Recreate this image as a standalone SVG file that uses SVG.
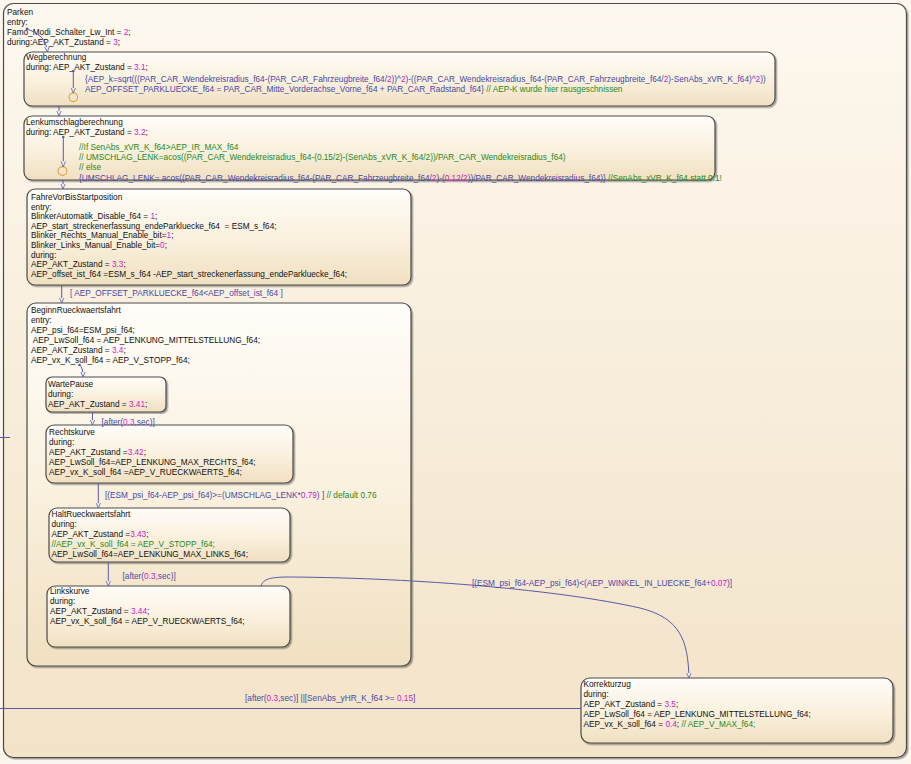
<svg xmlns="http://www.w3.org/2000/svg" width="911" height="764" viewBox="0 0 911 764">
<style>
text{font-family:"Liberation Sans",Arial,sans-serif;font-size:8.25px;fill:#111;white-space:pre}
.n{fill:#d020c8}
.c{fill:#1f8a1f}
.b{fill:#4848a8}
.st{stroke:#4a4a4a;stroke-width:1.2;filter:url(#sh)}
.cn{fill:none;stroke:#5a5aa8;stroke-width:1}
.ar{marker-end:url(#arr)}
</style>
<defs>
<linearGradient id="gO" x1="0" y1="0" x2="0" y2="1"><stop offset="0" stop-color="#fdf8ef"/><stop offset="1" stop-color="#f3e3c8"/></linearGradient>
<linearGradient id="gS" x1="0" y1="0" x2="0" y2="1"><stop offset="0" stop-color="#fffdf9"/><stop offset="0.5" stop-color="#faf1df"/><stop offset="1" stop-color="#f1e0c1"/></linearGradient>
<filter id="sh" x="-5%" y="-5%" width="110%" height="110%"><feDropShadow dx="1.5" dy="1.5" stdDeviation="0.7" flood-color="#000" flood-opacity="0.35"/></filter>
<marker id="arr" viewBox="0 0 8 8" refX="7" refY="4" markerWidth="6" markerHeight="6" orient="auto" markerUnits="userSpaceOnUse"><path d="M0,1 L7,4 L0,7" fill="#ececf6" stroke="#5a5aa8" stroke-width="1"/></marker>
</defs>
<rect width="911" height="764" fill="#fcf6ec"/>

<g id="Parken">
<rect x="3.5" y="3.5" width="903" height="754" rx="10" fill="url(#gO)" class="st"/>
<text x="7" y="14.5">Parken</text>
<text x="7" y="24.5">entry:</text>
<text x="7" y="34.5">Famo_Modi_Schalter_Lw_Int = <tspan class="n">2</tspan>;</text>
<text x="7" y="44.5">during:AEP_AKT_Zustand = <tspan class="n">3</tspan>;</text>
</g>

<g id="Wegberechnung">
<rect x="24" y="52" width="751" height="54" rx="8" fill="url(#gS)" class="st"/>
<text x="26" y="60">Wegberechnung</text>
<text x="26" y="70">during: AEP_AKT_Zustand = <tspan class="n">3.1</tspan>;</text>
<text x="85" y="82" class="b">{AEP_k=sqrt(((PAR_CAR_Wendekreisradius_f64-(PAR_CAR_Fahrzeugbreite_f64/<tspan class="n">2</tspan>))^<tspan class="n">2</tspan>)-((PAR_CAR_Wendekreisradius_f64-(PAR_CAR_Fahrzeugbreite_f64/<tspan class="n">2</tspan>)-SenAbs_xVR_K_f64)^<tspan class="n">2</tspan>))</text>
<text x="85" y="92" class="b">AEP_OFFSET_PARKLUECKE_f64 = PAR_CAR_Mitte_Vorderachse_Vorne_f64 + PAR_CAR_Radstand_f64} <tspan class="c">// AEP-K wurde hier rausgeschnissen</tspan></text>
<circle cx="73.3" cy="97.3" r="4.3" fill="none" stroke="#e0a040" stroke-width="1.1"/>
</g>

<g id="Lenkumschlagberechnung">
<rect x="24" y="116" width="691" height="64" rx="8" fill="url(#gS)" class="st"/>
<text x="26" y="125">Lenkumschlagberechnung</text>
<text x="26" y="135">during: AEP_AKT_Zustand = <tspan class="n">3.2</tspan>;</text>
<text x="79" y="150" class="c">//If SenAbs_xVR_K_f64&gt;AEP_IR_MAX_f64</text>
<text x="79" y="160" class="c">// UMSCHLAG_LENK=acos((PAR_CAR_Wendekreisradius_f64-(0.15/2)-(SenAbs_xVR_K_f64/2))/PAR_CAR_Wendekreisradius_f64)</text>
<text x="79" y="170" class="c">// else</text>
<text x="79" y="180.5" class="b">{UMSCHLAG_LENK= acos((PAR_CAR_Wendekreisradius_f64-(PAR_CAR_Fahrzeugbreite_f64/<tspan class="n">2</tspan>)-(<tspan class="n">0.12/2</tspan>))/PAR_CAR_Wendekreisradius_f64)} <tspan class="c">//SenAbs_xVR_K_f64 statt 0.1!</tspan></text>
<circle cx="62.5" cy="171" r="4.4" fill="none" stroke="#e0a040" stroke-width="1.1"/>
</g>

<g id="FahreVorBisStartposition">
<rect x="27" y="189" width="384" height="96" rx="8" fill="url(#gS)" class="st"/>
<text x="31" y="200">FahreVorBisStartposition</text>
<text x="31" y="209.6">entry:</text>
<text x="31" y="219.2">BlinkerAutomatik_Disable_f64 = <tspan class="n">1</tspan>;</text>
<text x="31" y="228.8">AEP_start_streckenerfassung_endeParkluecke_f64  = ESM_s_f64;</text>
<text x="31" y="238.4">Blinker_Rechts_Manual_Enable_bit=<tspan class="n">1</tspan>;</text>
<text x="31" y="248">Blinker_Links_Manual_Enable_bit=<tspan class="n">0</tspan>;</text>
<text x="31" y="257.6">during:</text>
<text x="31" y="267.2">AEP_AKT_Zustand = <tspan class="n">3.3</tspan>;</text>
<text x="31" y="276.8">AEP_offset_ist_f64 =ESM_s_f64 -AEP_start_streckenerfassung_endeParkluecke_f64;</text>
</g>

<g id="BeginnRueckwaertsfahrt">
<rect x="27" y="303" width="384" height="363" rx="9" fill="url(#gS)" class="st"/>
<text x="31" y="313">BeginnRueckwaertsfahrt</text>
<text x="31" y="323">entry:</text>
<text x="31" y="333">AEP_psi_f64=ESM_psi_f64;</text>
<text x="31" y="343"> AEP_LwSoll_f64 = AEP_LENKUNG_MITTELSTELLUNG_f64;</text>
<text x="31" y="353">AEP_AKT_Zustand = <tspan class="n">3.4</tspan>;</text>
<text x="31" y="363">AEP_vx_K_soll_f64 = AEP_V_STOPP_f64;</text>
</g>

<g id="WartePause">
<rect x="46" y="377" width="120" height="35" rx="6" fill="url(#gS)" class="st"/>
<text x="48" y="387">WartePause</text>
<text x="48" y="397">during:</text>
<text x="48" y="406.5">AEP_AKT_Zustand = <tspan class="n">3.41</tspan>;</text>
</g>

<g id="Rechtskurve">
<rect x="46" y="425" width="247" height="58" rx="8" fill="url(#gS)" class="st"/>
<text x="49" y="435">Rechtskurve</text>
<text x="49" y="444.5">during:</text>
<text x="49" y="454.5">AEP_AKT_Zustand =<tspan class="n">3.42</tspan>;</text>
<text x="49" y="464.5">AEP_LwSoll_f64=AEP_LENKUNG_MAX_RECHTS_f64;</text>
<text x="49" y="474.5">AEP_vx_K_soll_f64 =AEP_V_RUECKWAERTS_f64;</text>
</g>

<g id="HaltRueckwaertsfahrt">
<rect x="49" y="508" width="241" height="54" rx="8" fill="url(#gS)" class="st"/>
<text x="51.5" y="517">HaltRueckwaertsfahrt</text>
<text x="51.5" y="527">during:</text>
<text x="51.5" y="537">AEP_AKT_Zustand =<tspan class="n">3.43</tspan>;</text>
<text x="51.5" y="547" class="c">//AEP_vx_K_soll_f64 = AEP_V_STOPP_f64;</text>
<text x="51.5" y="556.5">AEP_LwSoll_f64=AEP_LENKUNG_MAX_LINKS_f64;</text>
</g>

<g id="Linkskurve">
<rect x="47" y="586" width="243" height="61" rx="8" fill="url(#gS)" class="st"/>
<text x="50" y="594">Linkskurve</text>
<text x="50" y="603.5">during:</text>
<text x="50" y="613.5">AEP_AKT_Zustand = <tspan class="n">3.44</tspan>;</text>
<text x="50" y="623.5">AEP_vx_K_soll_f64 = AEP_V_RUECKWAERTS_f64;</text>
</g>

<g id="Korrekturzug">
<rect x="581" y="678" width="312" height="65" rx="9" fill="url(#gS)" class="st"/>
<text x="583.5" y="687">Korrekturzug</text>
<text x="583.5" y="696.5">during:</text>
<text x="583.5" y="706.5">AEP_AKT_Zustand = <tspan class="n">3.5</tspan>;</text>
<text x="583.5" y="716.5">AEP_LwSoll_f64 = AEP_LENKUNG_MITTELSTELLUNG_f64;</text>
<text x="583.5" y="726.5">AEP_vx_K_soll_f64 = <tspan class="n">0.4</tspan>; <tspan class="c">// AEP_V_MAX_f64;</tspan></text>
</g>

<g id="connectors">
<circle cx="27" cy="29" r="1.4" fill="#5a5aa8"/>
<path class="cn ar" d="M27,29 C38,33 46,38 47.5,52"/>
<path class="cn ar" d="M59,106 L59,116"/>
<circle cx="73.3" cy="71" r="1.3" fill="#5a5aa8"/>
<path class="cn ar" d="M73.3,71 L73.3,93"/>
<circle cx="63.3" cy="137" r="1.3" fill="#5a5aa8"/>
<path class="cn ar" d="M63.3,137 L63.3,166.6"/>
<path class="cn ar" d="M63,180 L63,189"/>
<path class="cn ar" d="M61.7,285 L61.7,303"/>
<text x="70" y="296" class="b">[ AEP_OFFSET_PARKLUECKE_f64&lt;AEP_offset_ist_f64 ]</text>
<circle cx="79.5" cy="365" r="1.3" fill="#5a5aa8"/>
<path class="cn ar" d="M79.5,365 Q83,367 83,377"/>
<path class="cn ar" d="M92.5,412 L92.5,425"/>
<text x="101.5" y="424.5" class="b">[after(<tspan class="n">0.3</tspan>,sec)]</text>
<path class="cn ar" d="M98.3,483 L98.3,508"/>
<text x="105" y="498" class="b">[(ESM_psi_f64-AEP_psi_f64)&gt;=(UMSCHLAG_LENK*<tspan class="n">0.79</tspan>) ] <tspan class="c">// default 0.76</tspan></text>
<path class="cn ar" d="M108.3,562 L108.3,586"/>
<text x="122.5" y="579" class="b">[after(<tspan class="n">0.3</tspan>,sec)]</text>
<path class="cn ar" d="M261,586 C263,579 270,577 290,577 C420,578 560,590 640,608 C680,618 688,640 689,678"/>
<text x="472" y="586" class="b">[(ESM_psi_f64-AEP_psi_f64)&lt;(AEP_WINKEL_IN_LUECKE_f64+<tspan class="n">0.07</tspan>)]</text>
<path class="cn" d="M0,708.5 L581,708.5"/>
<text x="245" y="701" class="b">[after(<tspan class="n">0.3</tspan>,sec)] ||[SenAbs_yHR_K_f64 &gt;= <tspan class="n">0.15</tspan>]</text>
<path class="cn" d="M0,437.5 L10,437.5"/>
</g>
</svg>
